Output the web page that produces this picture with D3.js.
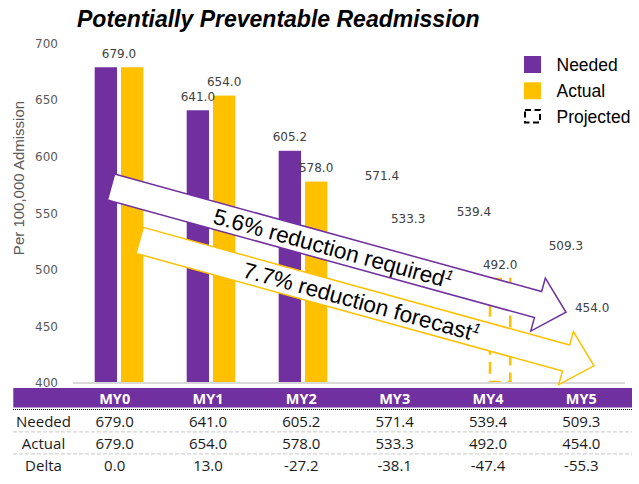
<!DOCTYPE html>
<html><head><meta charset="utf-8">
<script src="https://cdn.jsdelivr.net/npm/d3@7"></script>
<style>body{margin:0;background:#fff;} svg{display:block;}</style>
</head><body><svg id="c" width="639" height="484"></svg>
<script>
// ---------- data ----------
const categories = ["MY0", "MY1", "MY2", "MY3", "MY4", "MY5"];
const needed = [679.0, 641.0, 605.2, 571.4, 539.4, 509.3];
const actual = [679.0, 654.0, 578.0, 533.3, 492.0, 454.0];
const delta  = [0.0, 13.0, -27.2, -38.1, -47.4, -55.3];
const measuredCategories = ["MY0", "MY1", "MY2"];      // solid bars
const projectedActualShown = ["MY4"];                 // dashed bar visible in picture
const yTicks = [400, 450, 500, 550, 600, 650, 700];
const rowLabels = ["Needed", "Actual", "Delta"];
const legendLabels = ["Needed", "Actual", "Projected"];
const titleText = "Potentially Preventable Readmission";
const yTitle = "Per 100,000 Admission";
const arrowTexts = ["5.6% reduction required", "7.7% reduction forecast"];

// ---------- setup ----------
const purple = "#7030A0", gold = "#FFC000";
const svg = d3.select("#c");
const x = d3.scaleBand().domain(categories).range([73, 625]);
const y = d3.scaleLinear().domain([400, 700]).range([383, 43.5]);
const bw = 22.3, gap = 2;
const cx = c => x(c) + x.bandwidth() / 2;
const valFont = "'DejaVu Sans', Verdana, sans-serif";

// title
svg.append("text").attr("x", 77).attr("y", 26.5)
  .attr("font-family", "'Liberation Sans', Arial, sans-serif")
  .attr("font-size", 23).attr("font-weight", "bold").attr("font-style", "italic")
  .attr("fill", "#000").text(titleText);

// y axis title
svg.append("text").attr("transform", "translate(19,178) rotate(-90)")
  .attr("text-anchor", "middle").attr("dy", "0.35em")
  .attr("font-family", "'Liberation Sans', Arial, sans-serif")
  .attr("font-size", 15).attr("fill", "#595959").text(yTitle);

// y axis ticks
const yAxis = svg.append("g").attr("transform", "translate(61,0)")
  .call(d3.axisLeft(y).tickValues(yTicks).tickSize(0).tickPadding(3).tickFormat(d3.format("d")));
yAxis.select(".domain").remove();
yAxis.selectAll("text").attr("font-family", valFont).attr("font-size", 12).attr("fill", "#595959");

// solid bars
const rows = categories.map((c, i) => ({c, n: needed[i], a: actual[i]}));
const solid = rows.filter(d => measuredCategories.includes(d.c));
svg.append("g").selectAll("rect").data(solid).join("rect")
  .attr("x", d => cx(d.c) - gap - bw).attr("width", bw)
  .attr("y", d => y(d.n)).attr("height", d => y(400) - y(d.n)).attr("fill", purple);
svg.append("g").selectAll("rect").data(solid).join("rect")
  .attr("x", d => cx(d.c) + gap).attr("width", bw)
  .attr("y", d => y(d.a)).attr("height", d => y(400) - y(d.a)).attr("fill", gold);

// projected dashed bar(s)
svg.append("g").selectAll("rect").data(rows.filter(d => projectedActualShown.includes(d.c))).join("rect")
  .attr("x", d => cx(d.c) + gap + 1).attr("width", bw - 2)
  .attr("y", d => y(d.a)).attr("height", d => y(400) - y(d.a) - 1)
  .attr("fill", "none").attr("stroke", gold).attr("stroke-width", 2.5)
  .attr("stroke-dasharray", "12,7");

// value labels
const lab = [];
rows.forEach(d => {
  if (d.n === d.a) lab.push({x: cx(d.c), v: d.n});
  else {
    lab.push({x: cx(d.c) - gap - bw / 2, v: d.n});
    lab.push({x: cx(d.c) + gap + bw / 2, v: d.a});
  }
});
svg.append("g").selectAll("text").data(lab).join("text")
  .attr("x", d => d.x).attr("y", d => y(d.v) - 9.5).attr("text-anchor", "middle")
  .attr("font-family", valFont).attr("font-size", 12).attr("fill", "#404040")
  .text(d => d.v.toFixed(1));

// baseline
svg.append("line").attr("x1", 73).attr("x2", 625).attr("y1", y(400)).attr("y2", y(400))
  .attr("stroke", "#d9d9d9").attr("stroke-width", 2);

// ---------- arrows ----------
function arrow(tail, tip, color, label) {
  const dx = tip[0] - tail[0], dy = tip[1] - tail[1];
  const L = Math.hypot(dx, dy), ux = dx / L, uy = dy / L, nx = -uy, ny = ux;
  const w = 27, h = 29, H = 55;
  const bx = tail[0] + ux * (L - h), by = tail[1] + uy * (L - h);
  const pts = [
    [tail[0] - nx * w / 2, tail[1] - ny * w / 2],
    [bx - nx * w / 2, by - ny * w / 2],
    [bx - nx * H / 2, by - ny * H / 2],
    tip,
    [bx + nx * H / 2, by + ny * H / 2],
    [bx + nx * w / 2, by + ny * w / 2],
    [tail[0] + nx * w / 2, tail[1] + ny * w / 2]
  ];
  svg.append("path").attr("d", "M" + pts.map(p => p.join(",")).join("L") + "Z")
    .attr("fill", "#fff").attr("stroke", color).attr("stroke-width", 1.5)
    .attr("stroke-linejoin", "miter");
  const ang = Math.atan2(dy, dx) * 180 / Math.PI;
  const mx = tail[0] + ux * (L - h) * 0.52, my = tail[1] + uy * (L - h) * 0.52;
  const t = svg.append("text").attr("transform", `translate(${mx},${my}) rotate(${ang})`)
    .attr("text-anchor", "middle").attr("dy", "0.36em")
    .attr("font-family", "'Liberation Sans', Arial, sans-serif").attr("font-size", 22.5).attr("fill", "#000");
  t.append("tspan").text(label);
  t.append("tspan").attr("font-size", 14).attr("font-style", "italic").attr("dy", "-0.6em").text("1");
}
const iLast = categories.length - 1;
arrow([cx(categories[0]) - 8, y(573.2)], [cx(categories[iLast]) - 13, y(462.5)], purple, arrowTexts[0]);
arrow([cx(categories[0]) + 20.7, y(526)], [cx(categories[iLast]) + 15, y(415.2)], gold, arrowTexts[1]);

// ---------- legend ----------
const lg = svg.append("g");
legendLabels.forEach((t, i) => {
  const ly = 56 + i * 26.3;
  if (i < 2) lg.append("rect").attr("x", 524).attr("y", ly).attr("width", 17).attr("height", 17)
      .attr("fill", i === 0 ? purple : gold);
  else lg.append("rect").attr("x", 525).attr("y", ly + 1.5).attr("width", 15).attr("height", 12.5)
      .attr("fill", "none").attr("stroke", "#000").attr("stroke-width", 2).attr("stroke-dasharray", "6,3.5");
  lg.append("text").attr("x", 556.5).attr("y", ly + 14.7)
    .attr("font-family", "'Liberation Sans', Arial, sans-serif").attr("font-size", 17.5).attr("fill", "#000").text(t);
});

// ---------- table ----------
const tx = d3.scaleBand().domain(categories).range([68, 628]);
const tcx = c => tx(c) + tx.bandwidth() / 2;
const tFont = "'Open Sans', 'Noto Sans', sans-serif";
svg.append("rect").attr("x", 13.3).attr("y", 388).attr("width", 618.7).attr("height", 19.5).attr("fill", purple);
svg.append("g").selectAll("text").data(categories).join("text")
  .attr("x", d => tcx(d)).attr("y", 404.3).attr("text-anchor", "middle")
  .attr("font-family", tFont).attr("font-weight", "bold").attr("font-size", 14.5).attr("fill", "#fff").text(d => d);
svg.append("line").attr("x1", 13).attr("x2", 632).attr("y1", 409.5).attr("y2", 409.5)
  .attr("stroke", "#000").attr("stroke-width", 1).attr("stroke-dasharray", "1,1");
const tableRows = [needed, actual, delta];
tableRows.forEach((vals, r) => {
  const by = 426.7 + r * 22;
  svg.append("text").attr("x", 43.5).attr("y", by).attr("text-anchor", "middle")
    .attr("font-family", tFont).attr("font-size", 15).attr("fill", "#1a1a1a").text(rowLabels[r]);
  svg.append("g").selectAll("text").data(categories).join("text")
    .attr("x", d => tcx(d)).attr("y", by).attr("text-anchor", "middle")
    .attr("font-family", tFont).attr("font-size", 15).attr("fill", "#1a1a1a")
    .text((d, i) => vals[i].toFixed(1));
  if (r < 2) svg.append("line").attr("x1", 13).attr("x2", 632).attr("y1", by + 5.2).attr("y2", by + 5.2)
    .attr("stroke", "#c8c8c8").attr("stroke-width", 1).attr("stroke-dasharray", "4,2");
});
</script></body></html>
